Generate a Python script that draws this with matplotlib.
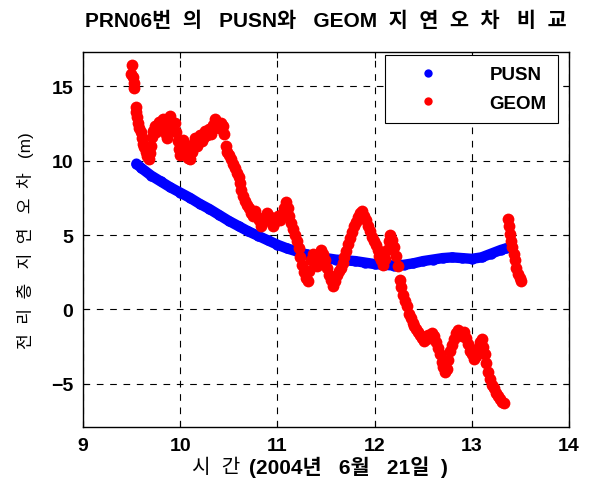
import matplotlib as mpl

mpl.use("Agg")

import matplotlib.pyplot as plt
from matplotlib.lines import Line2D

plt.rcParams["font.family"] = ["Liberation Sans", "Noto Sans CJK KR", "DejaVu Sans"]

# PUSN (smooth model) - hours vs. metres
pusn_t = [9.55, 9.6, 9.7, 9.8, 9.9, 10.0, 10.1, 10.2, 10.3, 10.4, 10.5, 10.6, 10.7,
          10.8, 10.9, 11.0, 11.1, 11.2, 11.3, 11.4, 11.5, 11.6, 11.7, 11.8, 11.9,
          12.0, 12.1, 12.2, 12.3, 12.4, 12.5, 12.6, 12.7, 12.8, 12.9, 13.0, 13.1,
          13.2, 13.3, 13.35]
pusn_v = [9.8, 9.5, 9.0, 8.6, 8.2, 7.85, 7.5, 7.1, 6.75, 6.35, 5.95, 5.6, 5.25,
          4.95, 4.65, 4.35, 4.1, 3.9, 3.7, 3.55, 3.45, 3.35, 3.3, 3.25, 3.15,
          3.05, 3.0, 2.95, 3.0, 3.1, 3.25, 3.35, 3.45, 3.5, 3.45, 3.4, 3.5,
          3.75, 4.0, 4.1]

# GEOM (measured) - hours vs. metres
geom_t = [9.49, 9.50, 9.51, 9.52, 9.52, 9.54, 9.55, 9.56, 9.57, 9.58, 9.60, 9.61,
          9.62, 9.63, 9.65, 9.66, 9.68, 9.69, 9.70, 9.71, 9.72, 9.74, 9.75, 9.76,
          9.78, 9.79, 9.80, 9.82, 9.83, 9.85, 9.86, 9.87, 9.88, 9.90, 9.91, 9.93,
          9.95, 9.96, 9.98, 9.99, 10.00, 10.01, 10.03, 10.04, 10.06, 10.08, 10.10,
          10.12, 10.13, 10.15, 10.17, 10.18, 10.20, 10.22, 10.24, 10.26, 10.28,
          10.30, 10.32, 10.34, 10.36, 10.38, 10.40, 10.42, 10.44, 10.45, 10.47,
          10.48, 10.50, 10.52, 10.54, 10.56, 10.58, 10.60, 10.62, 10.63, 10.65,
          10.67, 10.69, 10.71, 10.73, 10.75, 10.77, 10.79, 10.81, 10.83, 10.85,
          10.87, 10.89, 10.91, 10.93, 10.95, 10.97, 10.99, 11.01, 11.03, 11.05,
          11.07, 11.09, 11.11, 11.12, 11.14, 11.16, 11.18, 11.20, 11.22, 11.23,
          11.25, 11.27, 11.29, 11.31, 11.33, 11.35, 11.37, 11.39, 11.41, 11.43,
          11.45, 11.47, 11.49, 11.51, 11.53, 11.55, 11.57, 11.59, 11.61, 11.63,
          11.65, 11.67, 11.69, 11.71, 11.73, 11.75, 11.77, 11.79, 11.81, 11.83,
          11.85, 11.87, 11.89, 11.91, 11.93, 11.95, 11.97, 11.99, 12.01, 12.03,
          12.05, 12.07, 12.09, 12.11, 12.13, 12.15, 12.16, 12.18, 12.20, 12.22,
          12.24, 12.26, 12.27, 12.29, 12.31, 12.33, 12.35, 12.37, 12.39, 12.41,
          12.43, 12.45, 12.47, 12.49, 12.51, 12.53, 12.55, 12.57, 12.59, 12.61,
          12.63, 12.65, 12.67, 12.69, 12.70, 12.72, 12.74, 12.76, 12.78, 12.80,
          12.82, 12.84, 12.86, 12.88, 12.90, 12.92, 12.94, 12.96, 12.98, 13.00,
          13.02, 13.04, 13.06, 13.08, 13.10, 13.12, 13.14, 13.15, 13.17, 13.19,
          13.21, 13.23, 13.25, 13.27, 13.29, 13.31, 13.33, 13.37, 13.38, 13.39,
          13.40, 13.41, 13.43, 13.44, 13.46, 13.48, 13.50, 13.51]
geom_v = [15.8, 16.4, 15.6, 15.2, 14.9, 13.6, 13.3, 12.9, 12.5, 12.2, 11.9, 11.5,
          11.1, 10.9, 10.6, 10.3, 10.1, 10.5, 11.0, 11.6, 12.0, 12.3, 11.9, 12.4,
          12.6, 12.1, 12.5, 12.8, 12.3, 11.8, 11.5, 12.0, 12.7, 13.0, 12.6, 12.2,
          12.5, 11.9, 11.3, 10.8, 10.4, 11.0, 11.4, 10.9, 10.5, 10.2, 10.1,
          10.6, 11.1, 11.5, 11.0, 11.4, 11.7, 11.3, 11.6, 12.0, 11.7,
          12.1, 11.8, 12.4, 12.8, 12.6, 12.2, 12.5, 12.3, 11.8, 11.0,
          10.6, 10.4, 10.1, 9.8, 9.5, 9.2, 8.9, 8.5, 8.0, 7.6,
          7.3, 7.0, 6.8, 6.5, 6.3, 6.6, 6.2, 6.0, 5.6, 5.9,
          6.2, 6.5, 6.3, 6.0, 5.6, 5.8, 6.1, 6.3, 6.0, 6.4,
          6.8, 7.2, 6.8, 6.3, 5.8, 5.4, 5.0, 4.6, 4.1, 3.5,
          3.0, 2.5, 2.1, 1.9, 2.6, 3.3, 3.7, 3.2, 2.9, 3.5,
          4.0, 3.7, 3.3, 2.8, 2.3, 2.0, 1.6, 1.9, 2.3, 2.6,
          2.8, 3.1, 3.5, 3.9, 4.4, 4.8, 5.2, 5.6, 5.9, 6.2,
          6.5, 6.6, 6.3, 6.0, 5.6, 5.3, 4.9, 4.6, 4.3, 4.0,
          3.6, 3.3, 3.0, 3.4, 4.0, 4.6, 5.0, 4.7, 4.2, 3.6,
          2.9, 2.0, 1.5, 1.0, 0.6, 0.2, -0.3, -0.6, -0.9, -1.1,
          -1.3, -1.5, -1.7, -1.9, -2.1, -2.0, -1.7, -1.9, -1.6, -1.8,
          -2.2, -2.6, -3.0, -3.5, -3.9, -4.2, -4.0, -3.4, -2.8, -2.4,
          -2.0, -1.6, -1.4, -1.5, -1.8, -1.5, -1.9, -2.3, -2.8, -3.0,
          -3.3, -3.1, -2.6, -2.2, -2.0, -2.5, -3.0, -3.6, -4.2, -4.7,
          -5.1, -5.3, -5.6, -5.8, -6.0, -6.2, -6.3, 6.1, 5.6, 5.1,
          4.6, 4.2, 3.7, 3.3, 2.8, 2.4, 2.1, 1.9]

x_ticks = [9, 10, 11, 12, 13, 14]
y_ticks = [-5, 0, 5, 10, 15]

fig = plt.figure(figsize=(5.93, 4.85), dpi=100)
ax = fig.add_axes([0.14, 0.1175, 0.8195, 0.7732])

ax.plot(pusn_t, pusn_v, "-", color="#0000ff", linewidth=7.5, solid_capstyle="round", zorder=3)
ax.plot(pusn_t, pusn_v, "o", color="#0000ff", markersize=7.5, markeredgewidth=0, zorder=3)
ax.plot(geom_t, geom_v, "o", color="#ff0000", markersize=8.5, markeredgewidth=0, zorder=4)

ax.set_xlim(9, 14)
ax.set_ylim(-7.9, 17.3)
ax.set_xticks(x_ticks)
ax.set_yticks(y_ticks)
ax.tick_params(direction="in", top=True, right=True, length=4, width=0.8,
               labelsize=14, pad=7)
for lab in ax.get_xticklabels() + ax.get_yticklabels():
    lab.set_fontweight("bold")
ax.grid(True, color="black", linestyle=(0, (6, 6)), linewidth=0.8)
for sp in ax.spines.values():
    sp.set_linewidth(1.0)

ax.set_title("PRN06번  의   PUSN와   GEOM  지  연  오  차   비  교", fontsize=15,
             fontweight="bold", pad=19)
ax.set_ylabel("전  리  층   지  연   오  차   (m)", fontsize=12.3, labelpad=12)

# x label: plain Korean word, then bold date
fig.text(0.405, 0.037, "시  간", ha="right", va="center", fontsize=14.5)
fig.text(0.42, 0.037, "(2004년   6월   21일  )", ha="left", va="center",
         fontsize=15, fontweight="bold")

handles = [
    Line2D([], [], marker="o", linestyle="none", color="#0000ff", markersize=6, markeredgewidth=0),
    Line2D([], [], marker="o", linestyle="none", color="#ff0000", markersize=6, markeredgewidth=0),
]
leg = ax.legend(handles, ["PUSN", "GEOM"], loc="upper right",
                bbox_to_anchor=(558 / 593, 1 - 56 / 485), bbox_transform=fig.transFigure,
                fancybox=False, edgecolor="black", framealpha=1, borderaxespad=0,
                handlelength=3.4, handletextpad=1.6, borderpad=0.6,
                labelspacing=0.6, prop={"weight": "bold", "size": 13.5})
leg.get_frame().set_linewidth(0.8)

fig.savefig("out.png", dpi=100, facecolor="white")
